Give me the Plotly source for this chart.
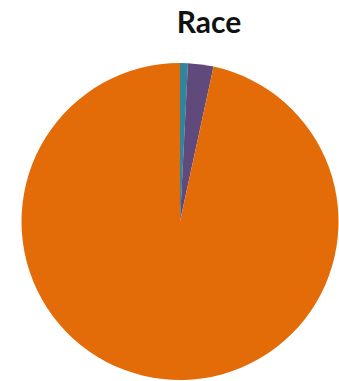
import plotly.graph_objects as go

labels = ["Race A", "Race B", "Race C"]
values = [0.8, 2.6, 96.6]
colors = ["#31859C", "#604A7B", "#E36C09"]

W, H = 339, 381

fig = go.Figure(go.Pie(
    labels=labels,
    values=values,
    marker=dict(colors=colors, line=dict(width=0)),
    sort=False,
    direction="clockwise",
    rotation=0,
    textinfo="none",
    hoverinfo="label+percent",
    domain=dict(x=[21 / W, 1.0], y=[1 / H, 318 / H]),
))

fig.update_layout(
    width=W, height=H,
    margin=dict(l=0, r=0, t=0, b=0),
    showlegend=False,
    paper_bgcolor="white",
    plot_bgcolor="white",
    title=dict(
        text="<b>Race</b>",
        x=209 / W, xanchor="center",
        y=1 - 22 / H, yanchor="middle",
        xref="paper", yref="paper",
        font=dict(family="Lato, Noto Sans, sans-serif", size=30, color="#111111"),
    ),
)

fig.write_html(
    "out.html",
    config={"displayModeBar": False},
    post_script="document.body.style.margin='0';document.body.style.overflow='hidden';",
)
